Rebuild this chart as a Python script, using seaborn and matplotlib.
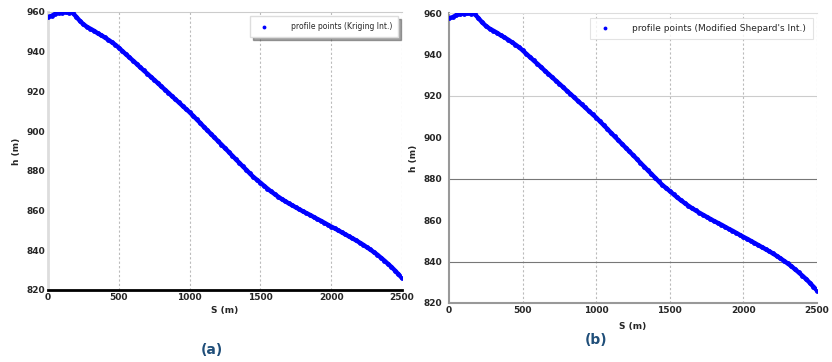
import numpy as np
import pandas as pd
import matplotlib
matplotlib.use('Agg')
import matplotlib.pyplot as plt
import seaborn as sns

sns.set_style('white')
plt.rcParams['font.family'] = ['DejaVu Sans']

# profile data (every 25 m)
s_m = np.arange(0, 2501, 25)
h_m = [957.5, 958.0, 959.0, 959.5, 959.7, 959.8, 959.7, 959.5, 957.5, 955.5,
       953.8, 952.5, 951.5, 950.5, 949.3, 948.3, 947.2, 946.0, 944.8, 943.5,
       942.0, 940.3, 938.7, 937.1, 935.5, 933.9, 932.2, 930.6, 929.0, 927.4,
       925.8, 924.2, 922.5, 920.9, 919.3, 917.6, 916.0, 914.4, 912.7, 911.1,
       909.5, 907.7, 905.9, 904.1, 902.2, 900.4, 898.6, 896.8, 895.0, 893.2,
       891.4, 889.6, 887.7, 885.9, 884.1, 882.3, 880.5, 878.7, 876.9, 875.5,
       874.0, 872.5, 871.0, 869.6, 868.3, 867.0, 865.8, 864.7, 863.6, 862.6,
       861.6, 860.6, 859.6, 858.7, 857.8, 856.8, 855.8, 854.9, 853.9, 852.9,
       851.9, 851.0, 850.0, 849.0, 848.0, 847.0, 846.0, 845.0, 843.9, 842.8,
       841.6, 840.4, 839.1, 837.8, 836.3, 834.8, 833.2, 831.6, 829.8, 827.9,
       826.0]
x_ticks = [0, 500, 1000, 1500, 2000, 2500]
y_ticks = [820, 840, 860, 880, 900, 920, 940, 960]
hlines_b = [920, 880, 840]

df = pd.DataFrame({'S': s_m, 'h': h_m})

fig = plt.figure(figsize=(8.32, 3.62), dpi=100)
ax1 = fig.add_axes([0.0577, 0.199, 0.4255, 0.768])
ax2 = fig.add_axes([0.5397, 0.163, 0.4423, 0.801])

# dense profile points drawn as a thick dotted trace
for ax in (ax1, ax2):
    sns.lineplot(data=df, x='S', y='h', ax=ax, color='blue', lw=3.2,
                 legend=False, zorder=3, solid_capstyle='round')
sns.scatterplot(data=df, x='S', y='h', ax=ax1, color='blue', s=12, linewidth=0,
                label='profile points (Kriging Int.)', zorder=4)
sns.scatterplot(data=df, x='S', y='h', ax=ax2, color='blue', s=12, linewidth=0,
                label="profile points (Modified Shepard's Int.)", zorder=4)

for ax in (ax1, ax2):
    ax.set_xlim(0, 2500)
    ax.set_ylim(820, 960)
    ax.set_xticks(x_ticks)
    ax.set_yticks(y_ticks)
    ax.tick_params(labelsize=6.5, length=0, pad=2)
    for lab in ax.get_xticklabels() + ax.get_yticklabels():
        lab.set_fontweight('bold')
    for xv in x_ticks[1:]:
        ax.axvline(xv, color='#bbbbbb', ls=(0, (2, 2)), lw=0.8, zorder=1)
    ax.set_ylabel('h (m)', fontsize=6.5, fontweight='bold', labelpad=4)

ax1.set_xlabel('S (m)', fontsize=6.5, fontweight='bold', labelpad=3)
ax2.set_xlabel('S (m)', fontsize=6.5, fontweight='bold', labelpad=5)

# left panel frame
ax1.spines['bottom'].set_color('black')
ax1.spines['bottom'].set_linewidth(2)
ax1.spines['left'].set_color('#dddddd')
ax1.spines['left'].set_linewidth(2)
ax1.spines['top'].set_color('#cccccc')
ax1.spines['top'].set_linewidth(0.8)
ax1.spines['right'].set_visible(False)
leg1 = ax1.legend(loc='upper right', fontsize=5.5, frameon=True, fancybox=False,
                  shadow=True, borderpad=0.8, handletextpad=2.5, markerscale=0.8)
leg1.get_frame().set_edgecolor('#dddddd')

# right panel frame
for hv in hlines_b:
    ax2.axhline(hv, color='#cccccc' if hv == 920 else '#777777', lw=0.8, zorder=1)
ax2.tick_params(axis='y', length=3, color='#777777')
for sp in ('left', 'bottom'):
    ax2.spines[sp].set_color('#999999')
    ax2.spines[sp].set_linewidth(1.5)
ax2.spines['top'].set_color('#dddddd')
ax2.spines['top'].set_linewidth(0.8)
ax2.spines['right'].set_visible(False)
leg2 = ax2.legend(loc='upper right', fontsize=6.5, frameon=True, fancybox=False,
                  borderpad=0.7, handletextpad=2.0, markerscale=0.8)
leg2.get_frame().set_edgecolor('#dddddd')
leg2.get_frame().set_linewidth(0.8)

fig.text(212 / 832, 1 - 350 / 362, '(a)', color='#1f4e79', fontsize=10,
         fontweight='bold', ha='center', va='center')
fig.text(596 / 832, 1 - 340 / 362, '(b)', color='#1f4e79', fontsize=10,
         fontweight='bold', ha='center', va='center')

plt.savefig('out.png', dpi=100)
